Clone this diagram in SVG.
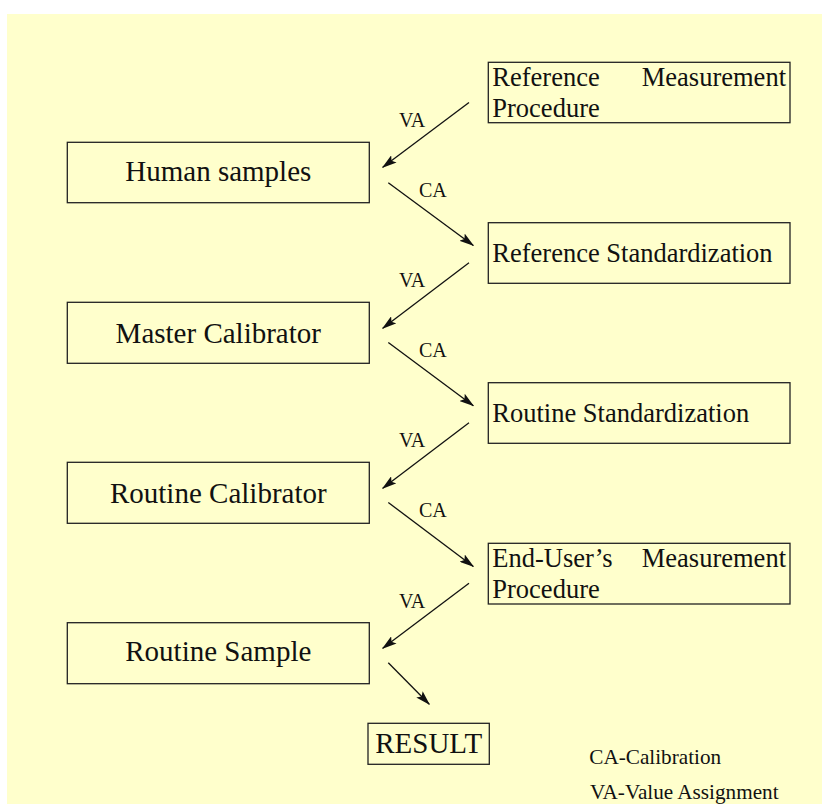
<svg xmlns="http://www.w3.org/2000/svg" width="822" height="804" viewBox="0 0 822 804">
<style>
.box{fill:none;stroke:#222;stroke-width:1.3}
.t{font-family:"Liberation Serif","Times New Roman",serif;fill:#111}
.lt{font-size:29px;text-anchor:middle}
.rt{font-size:26.5px}
.lab{font-size:20px}
.leg{font-size:21.2px}
.arr{stroke:#111;stroke-width:1.3;fill:none;marker-end:url(#ah)}
</style>
<defs>
<marker id="ah" viewBox="0 0 15 9" refX="14" refY="4.5" markerWidth="15" markerHeight="9" markerUnits="userSpaceOnUse" orient="auto">
<path d="M0,0 L15,4.5 L0,9 L3,4.5 Z" fill="#111"/>
</marker>
</defs>
<rect x="7" y="14" width="815" height="790" fill="#FFFFCC"/>
<g id="connectors">
<line class="arr" x1="469" y1="102.5" x2="382.7" y2="167.3"/>
<line class="arr" x1="388.3" y1="182.7" x2="473.3" y2="245.5"/>
<line class="arr" x1="469" y1="262.7" x2="382.7" y2="328.3"/>
<line class="arr" x1="388.3" y1="342.5" x2="473.3" y2="405.7"/>
<line class="arr" x1="469" y1="422.7" x2="382.7" y2="488.3"/>
<line class="arr" x1="388.3" y1="502.5" x2="473.3" y2="566.5"/>
<line class="arr" x1="469" y1="583.3" x2="382.7" y2="648.3"/>
<line class="arr" x1="388.3" y1="662.7" x2="429.3" y2="704.3"/>
<text class="t lab" x="399" y="127">VA</text>
<text class="t lab" x="419" y="196.7">CA</text>
<text class="t lab" x="399" y="287">VA</text>
<text class="t lab" x="419" y="357">CA</text>
<text class="t lab" x="399" y="447">VA</text>
<text class="t lab" x="419" y="517">CA</text>
<text class="t lab" x="399" y="607.5">VA</text>
</g>
<g id="ref-measurement">
<rect class="box" x="488.3" y="62.3" width="301.7" height="60.4"/>
<text class="t rt" x="492.3" y="85.5">Reference</text>
<text class="t rt" x="786" y="85.5" text-anchor="end">Measurement</text>
<text class="t rt" x="492.3" y="117">Procedure</text>
</g>
<g id="human-samples">
<rect class="box" x="67.3" y="142.3" width="302" height="60.4"/>
<text class="t lt" x="218.3" y="181">Human samples</text>
</g>
<g id="ref-standardization">
<rect class="box" x="488.3" y="222.7" width="301.7" height="60.6"/>
<text class="t rt" x="492.3" y="261.7">Reference Standardization</text>
</g>
<g id="master-calibrator">
<rect class="box" x="67.3" y="302.3" width="302" height="61"/>
<text class="t lt" x="218.3" y="343.3">Master Calibrator</text>
</g>
<g id="routine-standardization">
<rect class="box" x="488.3" y="382.7" width="301.7" height="60.6"/>
<text class="t rt" x="492.3" y="421.7">Routine Standardization</text>
</g>
<g id="routine-calibrator">
<rect class="box" x="67.3" y="462.3" width="302" height="61"/>
<text class="t lt" x="218.3" y="503.3">Routine Calibrator</text>
</g>
<g id="end-user">
<rect class="box" x="488.3" y="543.3" width="301.7" height="60.7"/>
<text class="t rt" x="492.3" y="566.7">End-User’s</text>
<text class="t rt" x="786" y="566.7" text-anchor="end">Measurement</text>
<text class="t rt" x="492.3" y="598.3">Procedure</text>
</g>
<g id="routine-sample">
<rect class="box" x="67.3" y="622.7" width="302" height="61"/>
<text class="t lt" x="218.3" y="661.3">Routine Sample</text>
</g>
<g id="result">
<rect class="box" x="368" y="723.3" width="121.3" height="41"/>
<text class="t lt" x="428.7" y="753.3">RESULT</text>
</g>
<g id="legend">
<text class="t leg" x="589.3" y="763.7">CA-Calibration</text>
<text class="t leg" x="590" y="799">VA-Value Assignment</text>
</g>
</svg>
